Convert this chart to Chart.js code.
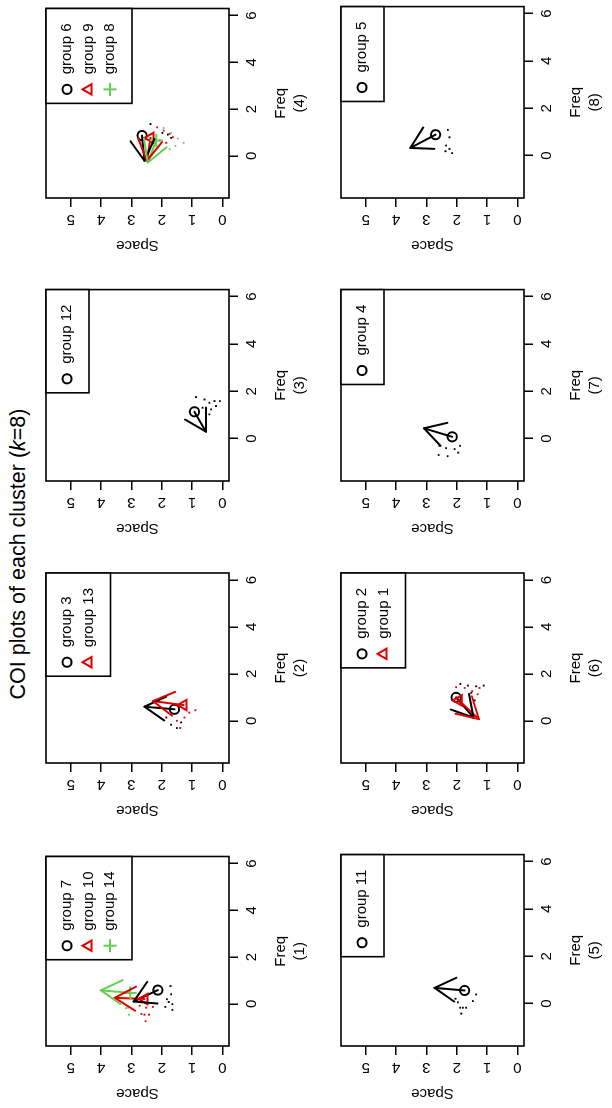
<!DOCTYPE html>
<html><head><meta charset="utf-8">
<script src="https://cdn.jsdelivr.net/npm/chart.js@4.4.1/dist/chart.umd.min.js"></script>
<style>
html,body{margin:0;padding:0;background:#fff;width:612px;height:1108px;overflow:hidden}
#fig{position:absolute;left:0;top:0;width:1108px;height:612px;transform-origin:0 0;transform:translateY(1108px) rotate(-90deg);background:#fff;font-family:"Liberation Sans",Arial,Helvetica,sans-serif;color:#000}
#title{position:absolute;left:0;top:5px;width:1108px;text-align:center;font-size:21.5px;line-height:26px}
canvas{position:absolute}
</style></head><body>
<div id="fig"><div id="title">COI plots of each cluster (<i>k</i>=8)</div></div>
<script>
// ---- tick labels ----
const freqTicks = [0, 2, 4, 6];
const spaceTicks = [0, 1, 2, 3, 4, 5];
const panelLabels = ['(1)', '(2)', '(3)', '(4)', '(5)', '(6)', '(7)', '(8)'];

// ---- panel (1) ----
const p1Groups = ['group 7', 'group 10', 'group 14'];
const p1CenterFreq = [0.59, 0.21, 0.47];
const p1CenterSpace = [2.13, 2.57, 3.04];
const p1TipFreq = [0.10, 0.26, 0.58];
const p1TipSpace = [2.93, 3.55, 4.01];
const p1DotFreq = [[0.76, 0.41, 0.20, 0.08, -0.01, -0.13, -0.26], [-0.08, -0.16, -0.13, -0.43, -0.46, -0.46, -0.74, -0.22], [-0.46, -0.18, -0.16]];
const p1DotSpace = [[1.71, 1.69, 1.83, 1.77, 1.65, 1.88, 1.65], [2.73, 2.51, 2.29, 2.67, 2.57, 2.42, 2.53, 2.97], [3.08, 3.17, 3.11]];

// ---- panel (2) ----
const p2Groups = ['group 3', 'group 13'];
const p2CenterFreq = [0.49, 0.67];
const p2CenterSpace = [1.58, 1.28];
const p2TipFreq = [0.60, 0.84];
const p2TipSpace = [2.57, 2.29];
const p2DotFreq = [[0.14, -0.17, -0.31, -0.07], [0.00, 0.14, 0.35, 0.45, -0.31]];
const p2DotSpace = [[1.85, 1.69, 1.50, 1.36], [1.50, 1.25, 1.09, 0.89, 1.39]];

// ---- panel (3) ----
const p3Groups = ['group 12'];
const p3CenterFreq = [1.13];
const p3CenterSpace = [0.92];
const p3TipFreq = [0.29];
const p3TipSpace = [0.54];
const p3DotFreq = [[1.75, 1.65, 1.51, 1.58, 1.58, 1.37, 1.23, 1.30, 1.02]];
const p3DotSpace = [[0.87, 0.59, 0.43, 0.26, 0.08, 0.21, 0.37, 0.65, 0.43]];

// ---- panel (4) ----
const p4Groups = ['group 6', 'group 9', 'group 8'];
const p4CenterFreq = [0.87, 0.77, 0.66];
const p4CenterSpace = [2.65, 2.37, 2.18];
const p4TipFreq = [-0.21, -0.21, -0.28];
const p4TipSpace = [2.57, 2.49, 2.46];
const p4DotFreq = [[1.36, 0.98, 0.91, 0.77, 0.66], [1.22, 1.08, 0.94, 0.80, 0.56], [1.19, 0.98, 0.74, 0.56, 0.28, 0.42]];
const p4DotSpace = [[2.37, 1.98, 1.80, 1.69, 2.07], [2.15, 1.94, 1.74, 1.63, 1.85], [1.94, 1.69, 1.47, 1.28, 1.74, 1.55]];

// ---- panel (5) ----
const p5Groups = ['group 11'];
const p5CenterFreq = [0.55];
const p5CenterSpace = [1.74];
const p5TipFreq = [0.66];
const p5TipSpace = [2.73];
const p5DotFreq = [[0.38, 0.10, 0.20, 0.05, -0.18, -0.18, -0.18, -0.43]];
const p5DotSpace = [[1.36, 1.47, 2.04, 1.96, 1.80, 1.69, 1.89, 1.85]];

// ---- panel (6) ----
const p6Groups = ['group 2', 'group 1'];
const p6CenterFreq = [1.00, 0.87];
const p6CenterSpace = [2.02, 1.93];
const p6TipFreq = [0.14, 0.07];
const p6TipSpace = [1.45, 1.27];
const p6DotFreq = [[1.57, 1.50, 1.47, 1.50, 1.19, 0.87], [1.43, 1.40, 1.26, 1.40, 1.13]];
const p6DotSpace = [[1.88, 1.63, 1.36, 1.11, 1.52, 1.41], [2.02, 1.74, 1.49, 1.25, 1.31]];

// ---- panel (7) ----
const p7Groups = ['group 4'];
const p7CenterFreq = [0.07];
const p7CenterSpace = [2.15];
const p7TipFreq = [0.43];
const p7TipSpace = [3.08];
const p7DotFreq = [[-0.31, -0.41, -0.45, -0.31, -0.70, -0.75, -0.60]];
const p7DotSpace = [[2.57, 2.35, 2.07, 1.89, 2.60, 2.30, 1.95]];

// ---- panel (8) ----
const p8Groups = ['group 5'];
const p8CenterFreq = [0.88];
const p8CenterSpace = [2.70];
const p8TipFreq = [0.32];
const p8TipSpace = [3.53];
const p8DotFreq = [[1.08, 0.77, 0.42, 0.28, 0.10, 0.18]];
const p8DotSpace = [[2.29, 2.24, 2.35, 2.24, 2.15, 2.37]];

const panels = [
  [p1Groups, p1CenterFreq, p1CenterSpace, p1TipFreq, p1TipSpace, p1DotFreq, p1DotSpace],
  [p2Groups, p2CenterFreq, p2CenterSpace, p2TipFreq, p2TipSpace, p2DotFreq, p2DotSpace],
  [p3Groups, p3CenterFreq, p3CenterSpace, p3TipFreq, p3TipSpace, p3DotFreq, p3DotSpace],
  [p4Groups, p4CenterFreq, p4CenterSpace, p4TipFreq, p4TipSpace, p4DotFreq, p4DotSpace],
  [p5Groups, p5CenterFreq, p5CenterSpace, p5TipFreq, p5TipSpace, p5DotFreq, p5DotSpace],
  [p6Groups, p6CenterFreq, p6CenterSpace, p6TipFreq, p6TipSpace, p6DotFreq, p6DotSpace],
  [p7Groups, p7CenterFreq, p7CenterSpace, p7TipFreq, p7TipSpace, p7DotFreq, p7DotSpace],
  [p8Groups, p8CenterFreq, p8CenterSpace, p8TipFreq, p8TipSpace, p8DotFreq, p8DotSpace]
];

// ---- styles ----
const COLORS = ['#000000', '#E00000', '#61D04F'];
const SHAPES = ['circle', 'triangle', 'cross'];
const RADII = [4.6, 6, 6.5];
const FONT = '"Liberation Sans", Arial, Helvetica, sans-serif';
Chart.defaults.font.family = FONT;
Chart.defaults.color = '#000';

const CW = 260, CH = 312, AXH = 80.5;
const colLeft = [0, 283, 565, 848];
const rowTop = [0, 295];

function drawShape(ctx, shape, x, y, r, col) {
  ctx.save();
  ctx.strokeStyle = col; ctx.lineWidth = 2; ctx.beginPath();
  if (shape === 'circle') { ctx.arc(x, y, r, 0, Math.PI * 2); }
  else if (shape === 'triangle') {
    for (let k = 0; k < 3; k++) {
      const a = k * 2 * Math.PI / 3;
      const px = x + Math.sin(a) * r, py = y - Math.cos(a) * r;
      if (k === 0) ctx.moveTo(px, py); else ctx.lineTo(px, py);
    }
    ctx.closePath();
  } else { ctx.moveTo(x - r, y); ctx.lineTo(x + r, y); ctx.moveTo(x, y - r); ctx.lineTo(x, y + r); }
  ctx.stroke(); ctx.restore();
}

const rPlot = {
  id: 'rPlot',
  afterDatasetsDraw(chart) {
    const cfg = chart.options.plugins.rPlot;
    const { ctx, chartArea: a, scales: { x, y } } = chart;
    ctx.save();
    ctx.lineCap = 'round';
    // arrow heads
    cfg.names.forEach((n, i) => {
      const x0 = x.getPixelForValue(cfg.cf[i]), y0 = y.getPixelForValue(cfg.cs[i]);
      const x1 = x.getPixelForValue(cfg.tf[i]), y1 = y.getPixelForValue(cfg.ts[i]);
      const ang = Math.atan2(y0 - y1, x0 - x1);
      ctx.strokeStyle = COLORS[i]; ctx.lineWidth = 2;
      ctx.beginPath();
      [-1, 1].forEach(s => {
        const b = ang + s * Math.PI / 6;
        ctx.moveTo(x1, y1); ctx.lineTo(x1 + 24 * Math.cos(b), y1 + 24 * Math.sin(b));
      });
      ctx.stroke();
    });
    // plot box
    ctx.lineCap = 'butt';
    ctx.strokeStyle = '#000'; ctx.lineWidth = 1.6;
    ctx.strokeRect(a.left, a.top, a.right - a.left, a.bottom - a.top);
    // legend (top right)
    ctx.font = '15px ' + FONT;
    const tw = Math.max(...cfg.names.map(t => ctx.measureText(t).width));
    const w = 14 + 15 + tw + 15, h = 21.5 * (cfg.names.length + 1);
    const lx = a.right - w, ly = a.top;
    ctx.fillStyle = '#fff'; ctx.fillRect(lx, ly, w, h);
    ctx.strokeRect(lx, ly, w, h);
    cfg.names.forEach((n, i) => {
      const yy = ly + 21 + i * 21.5;
      drawShape(ctx, SHAPES[i], lx + 14, yy, RADII[i], COLORS[i]);
      ctx.fillStyle = '#000'; ctx.textBaseline = 'middle'; ctx.textAlign = 'left';
      ctx.fillText(n, lx + 29, yy);
    });
    ctx.restore();
  }
};

const fig = document.getElementById('fig');
panels.forEach((p, pi) => {
  const [names, cf, cs, tf, ts, df, ds] = p;
  const col = pi % 4, row = Math.floor(pi / 4);
  const cv = document.createElement('canvas');
  cv.width = CW; cv.height = CH;
  cv.style.left = colLeft[col] + 'px'; cv.style.top = rowTop[row] + 'px';
  cv.style.width = CW + 'px'; cv.style.height = CH + 'px';
  fig.appendChild(cv);
  let datasets = [];
  names.forEach((n, i) => {
    datasets.push({ data: df[i].map((f, k) => ({ x: f, y: ds[i][k] })), pointStyle: 'rect', pointRadius: 1.3, borderWidth: 0, backgroundColor: COLORS[i], showLine: false });
    datasets.push({ data: [{ x: cf[i], y: cs[i] }, { x: tf[i], y: ts[i] }], showLine: true, borderColor: COLORS[i], borderWidth: 2, pointRadius: 0, borderCapStyle: 'round', fill: false });
    datasets.push({ data: [{ x: cf[i], y: cs[i] }], pointStyle: SHAPES[i], pointRadius: RADII[i], borderColor: COLORS[i], borderWidth: 2, backgroundColor: 'rgba(0,0,0,0)', showLine: false });
  });
  datasets = datasets.reverse();
  new Chart(cv, {
    type: 'scatter',
    data: { datasets },
    options: {
      responsive: false, animation: false, devicePixelRatio: 1,
      layout: { padding: { left: 0, top: 46, right: 5, bottom: CH - 46 - 183 - AXH } },
      plugins: {
        legend: { display: false }, tooltip: { enabled: false },
        rPlot: { names, cf, cs, tf, ts }
      },
      scales: {
        x: {
          type: 'linear', min: -1.8, max: 6.3,
          afterBuildTicks: s => { s.ticks = freqTicks.map(v => ({ value: v })); },
          afterFit: s => { s.height = AXH; },
          ticks: { font: { size: 15 }, color: '#000', padding: 5, maxRotation: 0, callback: v => String(v) },
          grid: { drawOnChartArea: false, drawTicks: true, tickLength: 9, color: '#000', lineWidth: 1.5 },
          border: { display: false },
          title: { display: true, text: ['Freq', panelLabels[pi]], font: { size: 15, lineHeight: 19 / 15 }, color: '#000', padding: 0 }
        },
        y: {
          type: 'linear', min: -0.22, max: 5.82,
          afterBuildTicks: s => { s.ticks = spaceTicks.map(v => ({ value: v })); },
          afterFit: s => { s.width = 62; },
          ticks: { font: { size: 15 }, color: '#000', padding: 7.5, minRotation: 90, maxRotation: 90, crossAlign: 'center', callback: v => String(v) },
          grid: { drawOnChartArea: false, drawTicks: true, tickLength: 9, color: '#000', lineWidth: 1.5 },
          border: { display: false },
          title: { display: true, text: 'Space', font: { size: 15 }, color: '#000', padding: { top: 6, bottom: 0 } }
        }
      }
    },
    plugins: [rPlot]
  });
});
</script>
</body></html>
